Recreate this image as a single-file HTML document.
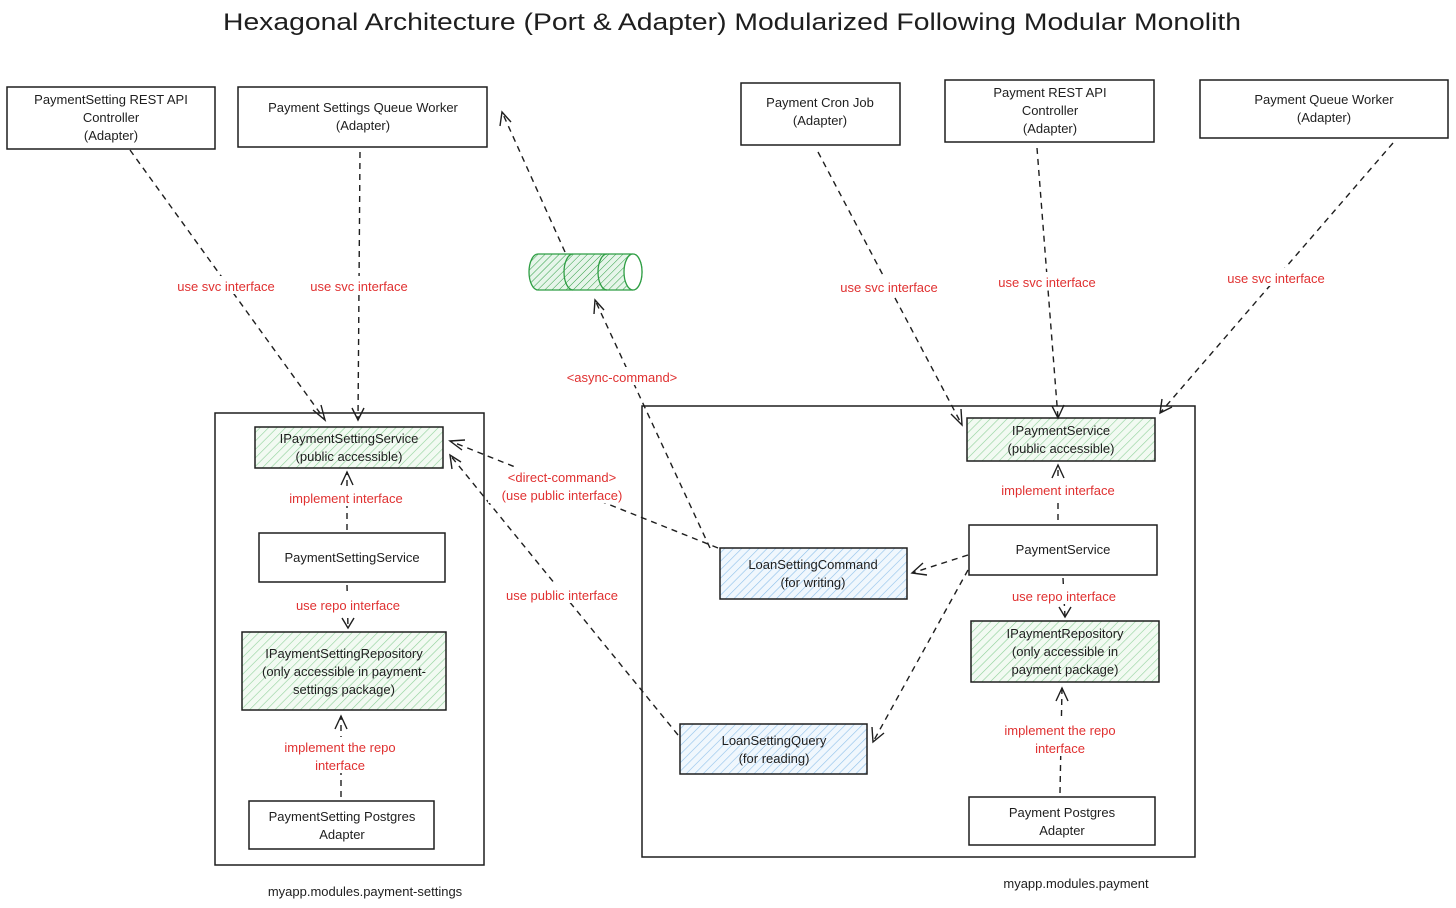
<!DOCTYPE html>
<html><head><meta charset="utf-8"><style>
html,body{margin:0;padding:0;background:#fff;}
svg{display:block;}
text{font-family:"Liberation Sans",sans-serif;}
.t{font-size:13px;fill:#1e1e1e;text-anchor:middle;}
.r{font-size:13px;fill:#e03131;text-anchor:middle;}
.b{fill:#fff;stroke:#1e1e1e;stroke-width:1.5;}
.hg{fill:url(#g);}
.hb{fill:url(#bl);}
.d{stroke:#1e1e1e;stroke-width:1.4;stroke-dasharray:6 5;fill:none;}
.a{stroke:#1e1e1e;stroke-width:1.4;fill:none;}
</style></head><body>
<svg width="1456" height="908" viewBox="0 0 1456 908" xmlns="http://www.w3.org/2000/svg">
<defs>
<pattern id="g" width="6" height="6" patternUnits="userSpaceOnUse" patternTransform="rotate(45)"><rect width="6" height="6" fill="#f2faf2"/><line x1="0" y1="0" x2="0" y2="6" stroke="#8fd19a" stroke-width="1.2"/></pattern>
<pattern id="bl" width="6" height="6" patternUnits="userSpaceOnUse" patternTransform="rotate(45)"><rect width="6" height="6" fill="#f0f7fd"/><line x1="0" y1="0" x2="0" y2="6" stroke="#8ec0ea" stroke-width="1.2"/></pattern>
<pattern id="cg" width="5" height="5" patternUnits="userSpaceOnUse" patternTransform="rotate(45)"><rect width="5" height="5" fill="#e6f5ea"/><line x1="0" y1="0" x2="0" y2="5" stroke="#2f9e44" stroke-width="1"/></pattern>
</defs>
<text x="732" y="30" font-size="24" text-anchor="middle" fill="#1e1e1e" textLength="1018" lengthAdjust="spacingAndGlyphs">Hexagonal Architecture  (Port &amp; Adapter) Modularized Following Modular Monolith</text>

<rect class="b" x="7" y="87" width="208" height="62"/>
<text class="t" x="111" y="104">PaymentSetting REST API</text><text class="t" x="111" y="122">Controller</text><text class="t" x="111" y="140">(Adapter)</text>
<rect class="b" x="238" y="87" width="249" height="60"/>
<text class="t" x="363" y="112">Payment Settings Queue Worker</text><text class="t" x="363" y="130">(Adapter)</text>
<rect class="b" x="741" y="83" width="159" height="62"/>
<text class="t" x="820" y="107">Payment Cron Job</text><text class="t" x="820" y="125">(Adapter)</text>
<rect class="b" x="945" y="80" width="209" height="62"/>
<text class="t" x="1050" y="97">Payment REST API</text><text class="t" x="1050" y="115">Controller</text><text class="t" x="1050" y="133">(Adapter)</text>
<rect class="b" x="1200" y="80" width="248" height="58"/>
<text class="t" x="1324" y="104">Payment Queue Worker</text><text class="t" x="1324" y="122">(Adapter)</text>

<rect x="215" y="413" width="269" height="452" fill="none" stroke="#1e1e1e" stroke-width="1.5"/>
<rect x="642" y="406" width="553" height="451" fill="none" stroke="#1e1e1e" stroke-width="1.5"/>
<text class="t" x="365" y="896" font-size="12">myapp.modules.payment-settings</text>
<text class="t" x="1076" y="888" font-size="12">myapp.modules.payment</text>

<rect class="b hg" x="255" y="427" width="188" height="41"/>
<text class="t" x="349" y="443">IPaymentSettingService</text><text class="t" x="349" y="461">(public accessible)</text>
<rect class="b" x="259" y="533" width="186" height="49"/>
<text class="t" x="352" y="562">PaymentSettingService</text>
<rect class="b hg" x="242" y="632" width="204" height="78"/>
<text class="t" x="344" y="658">IPaymentSettingRepository</text><text class="t" x="344" y="676">(only accessible in payment-</text><text class="t" x="344" y="694">settings package)</text>
<rect class="b" x="249" y="801" width="185" height="48"/>
<text class="t" x="342" y="821">PaymentSetting Postgres</text><text class="t" x="342" y="839">Adapter</text>

<rect class="b hg" x="967" y="418" width="188" height="43"/>
<text class="t" x="1061" y="435">IPaymentService</text><text class="t" x="1061" y="453">(public accessible)</text>
<rect class="b" x="969" y="525" width="188" height="50"/>
<text class="t" x="1063" y="554">PaymentService</text>
<rect class="b hg" x="971" y="621" width="188" height="61"/>
<text class="t" x="1065" y="638">IPaymentRepository</text><text class="t" x="1065" y="656">(only accessible in</text><text class="t" x="1065" y="674">payment package)</text>
<rect class="b" x="969" y="797" width="186" height="48"/>
<text class="t" x="1062" y="817">Payment Postgres</text><text class="t" x="1062" y="835">Adapter</text>
<rect class="b hb" x="720" y="548" width="187" height="51"/>
<text class="t" x="813" y="569">LoanSettingCommand</text><text class="t" x="813" y="587">(for writing)</text>
<rect class="b hb" x="680" y="724" width="187" height="50"/>
<text class="t" x="774" y="745">LoanSettingQuery</text><text class="t" x="774" y="763">(for reading)</text>

<g stroke="#2f9e44" stroke-width="1.3">
<path d="M538,254 L633,254 A9,18 0 0 1 633,290 L538,290 A9,18 0 0 1 538,254 Z" fill="url(#cg)"/>
<ellipse cx="633" cy="272" rx="9" ry="18" fill="#fff"/>
<path d="M573,254 A9,18 0 0 0 573,290 M607,254 A9,18 0 0 0 607,290" fill="none"/>
</g>

<path class="d" d="M130,150 L325,420"/><path class="a" d="M313,410 L325,420 L321,405"/>
<path class="d" d="M360,152 L358,420"/><path class="a" d="M352,408 L358,420 L364,408"/>
<path class="d" d="M565,252 L502,112"/><path class="a" d="M500,126 L502,112 L511,122"/>
<path class="d" d="M710,548 L595,300"/><path class="a" d="M594,314 L595,300 L604,310"/>
<path class="d" d="M718,548 L450,441"/><path class="a" d="M462,450 L450,441 L465,440"/>
<path class="d" d="M678,735 L450,455"/><path class="a" d="M452,469 L450,455 L461,462"/>
<path class="d" d="M818,152 L962,425"/><path class="a" d="M951,414 L962,425 L961,409"/>
<path class="d" d="M1037,148 L1058,418"/><path class="a" d="M1052,406 L1058,418 L1064,405"/>
<path class="d" d="M1393,143 L1160,413"/><path class="a" d="M1162,399 L1160,413 L1172,407"/>
<path class="d" d="M1058,520 L1058,465"/><path class="a" d="M1052,478 L1058,465 L1064,478"/>
<path class="d" d="M1063,578 L1065,617"/><path class="a" d="M1059,607 L1065,617 L1071,607"/>
<path class="d" d="M1060,793 L1062,688"/><path class="a" d="M1056,701 L1062,688 L1068,701"/>
<path class="d" d="M968,555 L912,573"/><path class="a" d="M927,575 L912,573 L923,563"/>
<path class="d" d="M968,570 L873,742"/><path class="a" d="M872,727 L873,742 L884,733"/>
<path class="d" d="M347,530 L347,472"/><path class="a" d="M341,485 L347,472 L353,485"/>
<path class="d" d="M347,585 L348,628"/><path class="a" d="M342,618 L348,628 L354,618"/>
<path class="d" d="M341,797 L341,716"/><path class="a" d="M335,729 L341,716 L347,729"/>

<g>
<rect x="165" y="276" width="122" height="18" fill="#fff"/><text class="r" x="226" y="291">use svc interface</text>
<rect x="299" y="276" width="122" height="18" fill="#fff"/><text class="r" x="359" y="291">use svc interface</text>
<rect x="562" y="367" width="122" height="18" fill="#fff"/><text class="r" x="622" y="382">&lt;async-command&gt;</text>
<rect x="488" y="467" width="148" height="36" fill="#fff"/><text class="r" x="562" y="482">&lt;direct-command&gt;</text><text class="r" x="562" y="500">(use public interface)</text>
<rect x="494" y="585" width="136" height="18" fill="#fff"/><text class="r" x="562" y="600">use public interface</text>
<rect x="829" y="277" width="120" height="18" fill="#fff"/><text class="r" x="889" y="292">use svc interface</text>
<rect x="987" y="272" width="120" height="18" fill="#fff"/><text class="r" x="1047" y="287">use svc interface</text>
<rect x="1216" y="268" width="120" height="18" fill="#fff"/><text class="r" x="1276" y="283">use svc interface</text>
<rect x="990" y="480" width="136" height="18" fill="#fff"/><text class="r" x="1058" y="495">implement interface</text>
<rect x="1000" y="586" width="128" height="18" fill="#fff"/><text class="r" x="1064" y="601">use repo interface</text>
<rect x="995" y="720" width="132" height="36" fill="#fff"/><text class="r" x="1060" y="735">implement the repo</text><text class="r" x="1060" y="753">interface</text>
<rect x="278" y="488" width="136" height="18" fill="#fff"/><text class="r" x="346" y="503">implement interface</text>
<rect x="284" y="595" width="128" height="18" fill="#fff"/><text class="r" x="348" y="610">use repo interface</text>
<rect x="275" y="737" width="132" height="36" fill="#fff"/><text class="r" x="340" y="752">implement the repo</text><text class="r" x="340" y="770">interface</text>
</g>
</svg>
</body></html>
